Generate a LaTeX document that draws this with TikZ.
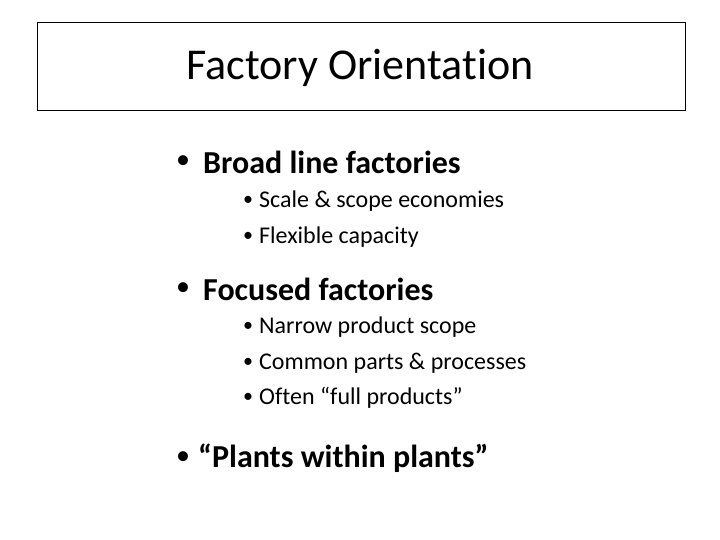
\documentclass[tikz,border=0pt]{standalone}
\usepackage{fontspec}
\setmainfont{Carlito}[RawFeature={-liga;-clig;-dlig}]
\begin{document}
\begin{tikzpicture}[x=1pt,y=-1pt,
  big/.style={anchor=west,inner sep=0pt,font=\fontsize{32}{36}\selectfont\bfseries},
  small/.style={anchor=west,inner sep=0pt,font=\fontsize{24}{28}\selectfont},
  dot1/.style={anchor=west,inner sep=0pt,font=\fontsize{28}{30}\selectfont},
  dot2/.style={anchor=west,inner sep=0pt,font=\fontsize{20}{24}\selectfont}]
\useasboundingbox (0,0) rectangle (720,540);
\node[draw=black,line width=0.8pt,minimum width=648pt,minimum height=88pt,inner sep=0pt] (box) at (361,66) {};
\node[font=\fontsize{44}{48}\selectfont,inner sep=0pt] (title) at (360,68) {Factory Orientation};
\node[dot1] (b1) at (176,162) {•};
\node[big] (t1) at (203,162) {Broad line factories};
\node[dot2] (s1b) at (243,201) {•};
\node[small] (s1) at (259,201) {Scale \& scope economies};
\node[dot2] (s2b) at (243,237) {•};
\node[small] (s2) at (259,237) {Flexible capacity};
\node[dot1] (b2) at (176,289) {•};
\node[big] (t2) at (203,289) {Focused factories};
\node[dot2] (s3b) at (243,327) {•};
\node[small] (s3) at (259,327) {Narrow product scope};
\node[dot2] (s4b) at (243,363) {•};
\node[small] (s4) at (259,363) {Common parts \& processes};
\node[dot2] (s5b) at (243,398) {•};
\node[small] (s5) at (259,398) {Often “full products”};
\node[dot1] (b3) at (176,458) {•};
\node[big] (t3) at (198,458) {“Plants within plants”};
\end{tikzpicture}
\end{document}
